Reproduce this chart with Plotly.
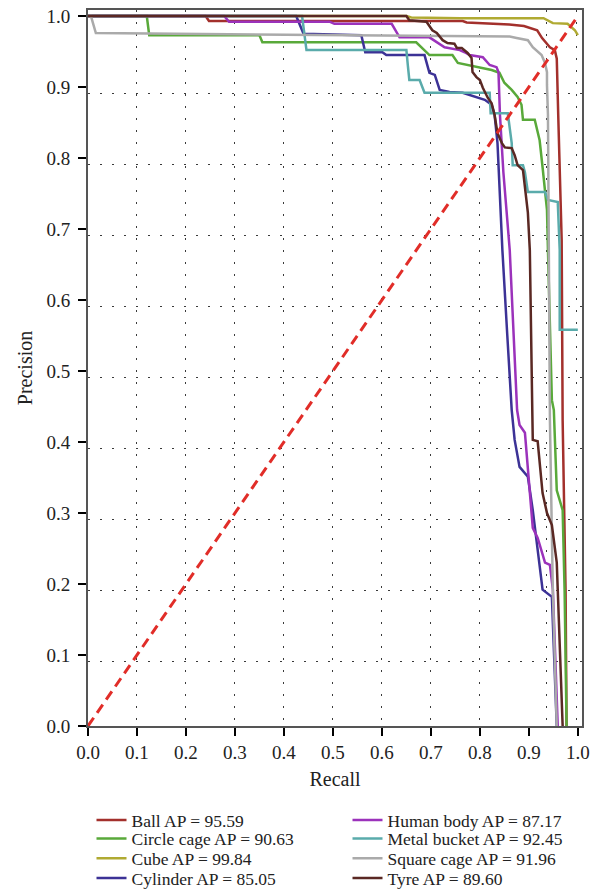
import plotly.graph_objects as go

# ---------------- data ----------------
ball_r = [0, 0.24, 0.247, 0.765, 0.773, 0.834, 0.86, 0.89, 0.917, 0.927, 0.943, 0.953, 0.957, 0.960, 0.967, 0.969, 0.975, 0.977]
ball_p = [1, 1, 0.993, 0.993, 0.991, 0.989, 0.988, 0.986, 0.980, 0.969, 0.956, 0.952, 0.94, 0.86, 0.685, 0.43, 0.19, 0]

circle_r = [0, 0.12, 0.125, 0.35, 0.356, 0.67, 0.697, 0.744, 0.755, 0.775, 0.804, 0.824, 0.840, 0.850, 0.865, 0.877,
            0.885, 0.888, 0.912, 0.922, 0.928, 0.937, 0.939, 0.947, 0.951, 0.957, 0.969, 0.973, 0.977]
circle_p = [1, 1, 0.973, 0.973, 0.963, 0.963, 0.945, 0.945, 0.934, 0.931, 0.927, 0.924, 0.920, 0.906, 0.896, 0.886,
            0.875, 0.854, 0.854, 0.825, 0.787, 0.727, 0.670, 0.459, 0.445, 0.332, 0.304, 0.19, 0]

cube_r = [0, 0.65, 0.66, 0.76, 0.93, 0.937, 0.949, 0.979, 0.994, 1.0]
cube_p = [1, 1, 0.998, 0.997, 0.997, 0.994, 0.990, 0.989, 0.980, 0.973]

cyl_r = [0, 0.425, 0.44, 0.558, 0.566, 0.601, 0.609, 0.687, 0.697, 0.708, 0.718, 0.738, 0.765, 0.779, 0.796, 0.810,
         0.824, 0.830, 0.836, 0.841, 0.846, 0.856, 0.865, 0.871, 0.881, 0.898, 0.908, 0.928, 0.947, 0.957]
cyl_p = [1, 1, 0.975, 0.973, 0.949, 0.949, 0.945, 0.945, 0.920, 0.917, 0.896, 0.893, 0.892, 0.889, 0.886, 0.882,
         0.875, 0.861, 0.821, 0.75, 0.67, 0.55, 0.445, 0.403, 0.365, 0.351, 0.304, 0.192, 0.182, 0]

human_r = [0, 0.278, 0.288, 0.493, 0.503, 0.620, 0.636, 0.697, 0.728, 0.759, 0.769, 0.779, 0.806, 0.820, 0.834, 0.838,
           0.841, 0.848, 0.861, 0.870, 0.876, 0.881, 0.892, 0.908, 0.918, 0.933, 0.943, 0.949, 0.959]
human_p = [1, 1, 0.992, 0.992, 0.989, 0.989, 0.970, 0.970, 0.956, 0.952, 0.949, 0.945, 0.942, 0.931, 0.928, 0.921,
           0.861, 0.78, 0.670, 0.54, 0.445, 0.424, 0.413, 0.279, 0.265, 0.230, 0.227, 0.192, 0]

metal_r = [0, 0.437, 0.446, 0.650, 0.653, 0.656, 0.677, 0.687, 0.820, 0.822, 0.857, 0.865, 0.867, 0.888, 0.892, 0.898,
           0.933, 0.939, 0.959, 0.963, 0.963, 1.0]
metal_p = [1, 1, 0.952, 0.952, 0.93, 0.910, 0.910, 0.892, 0.892, 0.863, 0.863, 0.821, 0.790, 0.790, 0.780, 0.752,
           0.752, 0.741, 0.738, 0.670, 0.558, 0.558]

square_r = [0, 0.006, 0.016, 0.861, 0.875, 0.898, 0.908, 0.926, 0.933, 0.937, 0.937, 0.939, 0.943, 0.949, 0.957]
square_p = [1, 1, 0.976, 0.971, 0.969, 0.966, 0.956, 0.945, 0.934, 0.921, 0.903, 0.861, 0.43, 0.19, 0]

tyre_r = [0, 0.650, 0.656, 0.691, 0.703, 0.712, 0.724, 0.734, 0.748, 0.753, 0.763, 0.775, 0.783, 0.785, 0.793, 0.800,
          0.806, 0.816, 0.824, 0.830, 0.836, 0.845, 0.851, 0.865, 0.871, 0.877, 0.888, 0.898, 0.902, 0.904, 0.907,
          0.908, 0.918, 0.928, 0.937, 0.947, 0.957, 0.959, 0.969]
tyre_p = [1, 1, 0.994, 0.992, 0.980, 0.976, 0.966, 0.962, 0.961, 0.955, 0.955, 0.948, 0.941, 0.921, 0.914, 0.910,
          0.899, 0.885, 0.877, 0.861, 0.835, 0.821, 0.815, 0.814, 0.804, 0.790, 0.783, 0.723, 0.670, 0.55, 0.445,
          0.403, 0.401, 0.328, 0.300, 0.283, 0.230, 0.192, 0]

names = ["Ball AP = 95.59", "Circle cage AP = 90.63", "Cube AP = 99.84", "Cylinder AP = 85.05",
         "Human body AP = 87.17", "Metal bucket AP = 92.45", "Square cage AP = 91.96", "Tyre AP = 89.60"]
series = [(ball_r, ball_p), (circle_r, circle_p), (cube_r, cube_p), (cyl_r, cyl_p),
          (human_r, human_p), (metal_r, metal_p), (square_r, square_p), (tyre_r, tyre_p)]
colors = ["#a3302c", "#59a93a", "#b0aa32", "#3c3296", "#9b32bb", "#5aabab", "#aaaaaa", "#5a2823"]

diag = [0, 1]
tick_vals = [i / 10 for i in range(11)]
xgrid_vals = [0.0995, 0.1995, 0.2995, 0.3995, 0.4995, 0.5995, 0.6995, 0.7995, 0.935, 0.997]
ygrid_vals = [0.091, 0.191, 0.291, 0.391, 0.491, 0.591, 0.691, 0.791, 0.891]

FONT = "Liberation Serif"

W, H = 605, 891
ML, MR, MT, MB = 88, 23, 10, 165

legend_ids = ["legend"] + ["legend%d" % i for i in range(2, 9)]

fig = go.Figure()
for (r, p), n, c, lg in zip(series, names, colors, legend_ids):
    fig.add_trace(go.Scatter(x=r, y=p, mode="lines", name=n, legend=lg,
                             line=dict(color=c, width=2.5)))
fig.add_trace(go.Scatter(x=diag, y=diag, mode="lines", showlegend=False,
                         line=dict(color="#e12d28", width=3, dash="10px,6px")))

axis_common = dict(
    showline=True, linecolor="#555555", linewidth=2, mirror=True,
    ticks="outside", ticklen=8, tickwidth=2, tickcolor="#000000",
    tickvals=tick_vals, tickformat=".1f", showgrid=False, zeroline=False,
    tickfont=dict(family=FONT, size=19, color="#222222"), automargin=False,
    ticklabeloverflow="allow",
)

fig.update_layout(
    width=W, height=H,
    margin=dict(l=ML, r=MR, t=MT, b=MB),
    paper_bgcolor="white", plot_bgcolor="white",
    xaxis=dict(range=[0, 1.0085], title=dict(text="Recall", font=dict(family=FONT, size=20, color="#222222"), standoff=10),
               minor=dict(tickmode="array", tickvals=xgrid_vals, showgrid=True, gridcolor="#3a3a3a",
                          gridwidth=1.3, griddash="2px,10px", ticks=""),
               **axis_common),
    yaxis=dict(range=[0, 1.0085], title=dict(text="Precision", font=dict(family=FONT, size=20, color="#222222"), standoff=8),
               minor=dict(tickmode="array", tickvals=ygrid_vals, showgrid=True, gridcolor="#3a3a3a",
                          gridwidth=1.3, griddash="2px,10px", ticks=""),
               ticklabelstandoff=4,
               **axis_common),
    showlegend=True,
)

plot_w = W - ML - MR
row_px = [820, 838.5, 858.3, 878]
col_px = [91.5, 347.5]
for i, lid in enumerate(legend_ids):
    col, row = divmod(i, 4)
    fig.update_layout({lid: dict(orientation="v", xref="paper", yref="container",
                                 x=(col_px[col] - ML) / plot_w, xanchor="left",
                                 y=1 - row_px[row] / H, yanchor="middle",
                                 bgcolor="rgba(0,0,0,0)",
                                 font=dict(family=FONT, size=17.5, color="#222222"),
                                 itemwidth=30)})

fig.write_html("out.html", config={"displayModeBar": False},
               post_script="document.body.style.margin='0';")
